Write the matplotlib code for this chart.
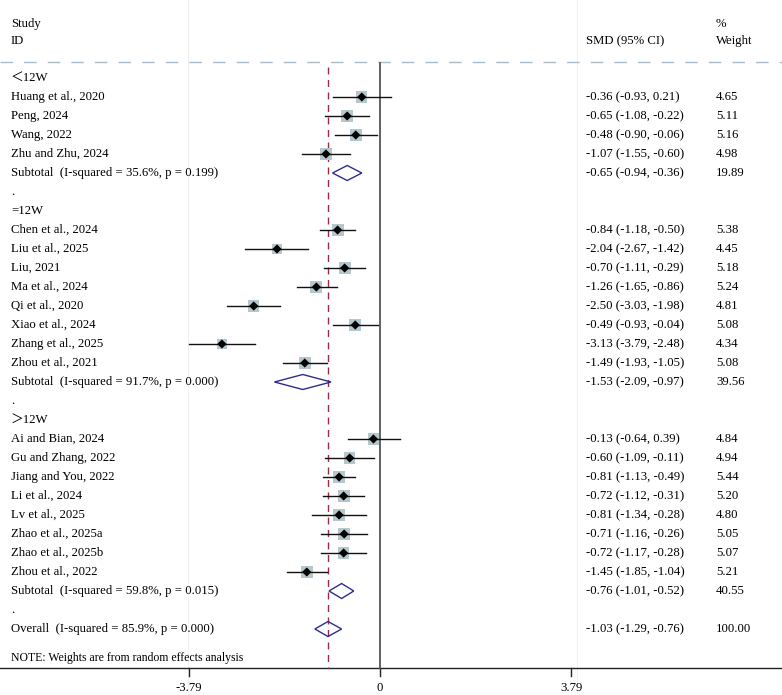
import matplotlib
matplotlib.use("Agg")
import matplotlib.pyplot as plt
import matplotlib.transforms as mtrans
from matplotlib.patches import Polygon
import numpy as np

plt.rcParams['font.family'] = ['Liberation Serif', 'Noto Sans CJK SC', 'DejaVu Sans']

# ---------------- data ----------------
labels = ["＜12W", "Huang et al., 2020", "Peng, 2024", "Wang, 2022", "Zhu and Zhu, 2024",
          "Subtotal  (I-squared = 35.6%, p = 0.199)", ".",
          "=12W", "Chen et al., 2024", "Liu et al., 2025", "Liu, 2021", "Ma et al., 2024",
          "Qi et al., 2020", "Xiao et al., 2024", "Zhang et al., 2025", "Zhou et al., 2021",
          "Subtotal  (I-squared = 91.7%, p = 0.000)", ".",
          "＞12W", "Ai and Bian, 2024", "Gu and Zhang, 2022", "Jiang and You, 2022",
          "Li et al., 2024", "Lv et al., 2025", "Zhao et al., 2025a", "Zhao et al., 2025b",
          "Zhou et al., 2022", "Subtotal  (I-squared = 59.8%, p = 0.015)", ".",
          "Overall  (I-squared = 85.9%, p = 0.000)"]
# kind: h=header, s=study, d=diamond, b=blank
kinds = ["h", "s", "s", "s", "s", "d", "b",
         "h", "s", "s", "s", "s", "s", "s", "s", "s", "d", "b",
         "h", "s", "s", "s", "s", "s", "s", "s", "s", "d", "b", "d"]
smd = [None, -0.36, -0.65, -0.48, -1.07, -0.65, None,
       None, -0.84, -2.04, -0.70, -1.26, -2.50, -0.49, -3.13, -1.49, -1.53, None,
       None, -0.13, -0.60, -0.81, -0.72, -0.81, -0.71, -0.72, -1.45, -0.76, None, -1.03]
lo = [None, -0.93, -1.08, -0.90, -1.55, -0.94, None,
      None, -1.18, -2.67, -1.11, -1.65, -3.03, -0.93, -3.79, -1.93, -2.09, None,
      None, -0.64, -1.09, -1.13, -1.12, -1.34, -1.16, -1.17, -1.85, -1.01, None, -1.29]
hi = [None, 0.21, -0.22, -0.06, -0.60, -0.36, None,
      None, -0.50, -1.42, -0.29, -0.86, -1.98, -0.04, -2.48, -1.05, -0.97, None,
      None, 0.39, -0.11, -0.49, -0.31, -0.28, -0.26, -0.28, -1.04, -0.52, None, -0.76]
weights = [None, 4.65, 5.11, 5.16, 4.98, 19.89, None,
           None, 5.38, 4.45, 5.18, 5.24, 4.81, 5.08, 4.34, 5.08, 39.56, None,
           None, 4.84, 4.94, 5.44, 5.20, 4.80, 5.05, 5.07, 5.21, 40.55, None, 100.00]
overall = -1.03
xticks = [-3.79, 0, 3.79]
tick_labels = ["-3.79", "0", "3.79"]

# ---------------- layout ----------------
W, H, DPI = 782, 695, 100
fig = plt.figure(figsize=(W / DPI, H / DPI), dpi=DPI)
ax = fig.add_axes([0, 0, 1, 1])
ax.set_axis_off()

px0, pxu = 380.0, 50.5        # pixel of x=0, pixels per unit
row0, rowh = 78.0, 19.0       # pixel of row 0, pixels per row
ax.set_xlim(-px0 / pxu, (W - px0) / pxu)
ax.set_ylim((H - row0) / rowh, -row0 / rowh)

def ry(p):  # pixel y -> row coordinate
    return (p - row0) / rowh

def fx(p):  # pixel x -> axes fraction
    return p / W

trx = mtrans.blended_transform_factory(ax.transAxes, ax.transData)

fs = 9.2
col_smd, col_w, col_lab = 586, 716, 11

# faint guide lines
for p in (188, 577):
    ax.axvline((p - px0) / pxu, color="#f1f1f1", lw=0.8, zorder=0)

# header
ax.text(fx(col_lab), ry(24), "Study", transform=trx, fontsize=fs, va="center", ha="left")
ax.text(fx(col_lab), ry(41), "ID", transform=trx, fontsize=fs, va="center", ha="left")
ax.text(fx(col_smd), ry(41), "SMD (95% CI)", transform=trx, fontsize=fs, va="center", ha="left")
ax.text(fx(col_w), ry(24), "%", transform=trx, fontsize=fs, va="center", ha="left")
ax.text(fx(col_w), ry(41), "Weight", transform=trx, fontsize=fs, va="center", ha="left")
ax.plot([0, 1], [ry(62), ry(62)], transform=trx, color="#a9bccb", lw=1.0,
        dashes=(9, 8), zorder=1)

# axis line
y_axis = ry(668)
ax.plot([0, 1], [y_axis, y_axis], transform=trx, color="#222222", lw=1.0, clip_on=False)
for t, tl in zip(xticks, tick_labels):
    ax.plot([t, t], [y_axis, ry(676)], color="#222222", lw=1.0)
    ax.text(t, ry(682), tl, fontsize=fs, ha="center", va="top")

# zero line and overall line
ax.plot([0, 0], [ry(63), y_axis], color="#555555", lw=1.3, zorder=2)
ax.plot([overall, overall], [ry(67), y_axis], color="#9b2a48", lw=1.0,
        dashes=(5, 4), zorder=2)

# rows
for i, (lab, k) in enumerate(zip(labels, kinds)):
    ax.text(fx(col_lab), i, lab, transform=trx, fontsize=fs, va="center", ha="left")
    if k in ("s", "d"):
        ax.text(fx(col_smd), i, f"{smd[i]:.2f} ({lo[i]:.2f}, {hi[i]:.2f})", transform=trx,
                fontsize=fs, va="center", ha="left")
        ax.text(fx(col_w), i, f"{weights[i]:.2f}", transform=trx,
                fontsize=fs, va="center", ha="left")
    if k == "s":
        side_px = 12.0 * np.sqrt(weights[i] / 5.38)
        side_pt = side_px * 72 / DPI
        ax.scatter([smd[i]], [i], marker="s", s=side_pt ** 2, color="#b5c7cc",
                   edgecolors="none", zorder=3)
        ax.plot([lo[i], hi[i]], [i, i], color="#111111", lw=1.0, zorder=4)
        ax.scatter([smd[i]], [i], marker="D", s=22, color="black", zorder=5,
                   edgecolors="none")
    elif k == "d":
        h = 7.5 / rowh
        poly = Polygon([(lo[i], i), (smd[i], i - h), (hi[i], i), (smd[i], i + h)],
                       closed=True, fill=False, edgecolor="#2b2e8c", lw=1.0, zorder=4)
        ax.add_patch(poly)

# note
ax.text(fx(col_lab), ry(658), "NOTE: Weights are from random effects analysis",
        transform=trx, fontsize=fs * 0.92, va="center", ha="left")

fig.savefig("out.png", dpi=DPI, facecolor="white")
